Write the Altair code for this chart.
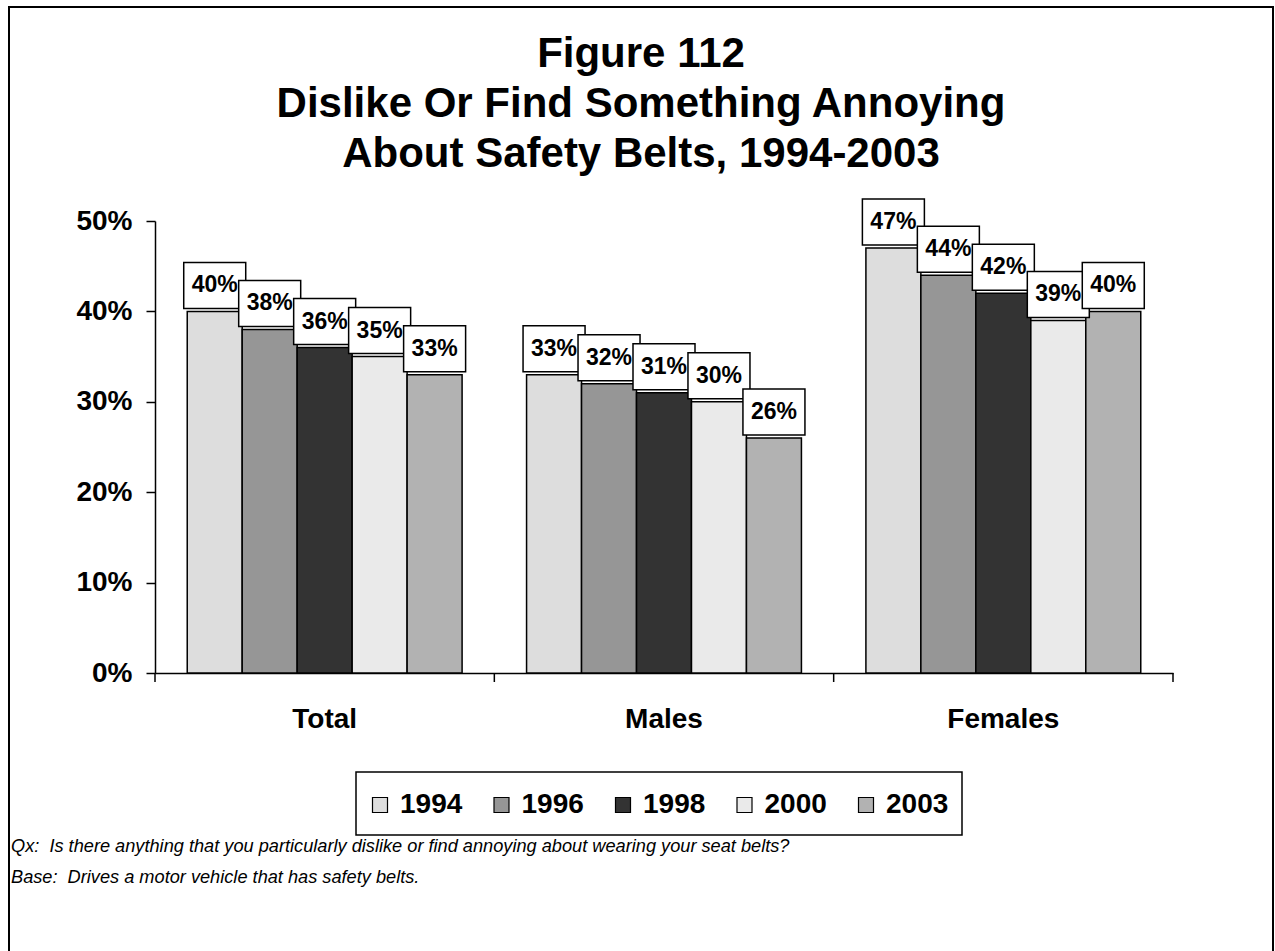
import altair as alt
import pandas as pd

# Survey groups, survey years and the share answering "yes" in each
groups = ["Total", "Males", "Females"]
years = ["1994", "1996", "1998", "2000", "2003"]
share_1994 = [0.40, 0.33, 0.47]
share_1996 = [0.38, 0.32, 0.44]
share_1998 = [0.36, 0.31, 0.42]
share_2000 = [0.35, 0.30, 0.39]
share_2003 = [0.33, 0.26, 0.40]
year_fills = ["#DDDDDD", "#969696", "#333333", "#EAEAEA", "#B2B2B2"]
y_ticks = [0.0, 0.1, 0.2, 0.3, 0.4, 0.5]

title_lines = [
    "Figure 112",
    "Dislike Or Find Something Annoying",
    "About Safety Belts, 1994-2003",
]
note_lines = [
    "Qx:\u00a0 Is there anything that you particularly dislike or find annoying about wearing your seat belts?",
    "Base:\u00a0 Drives a motor vehicle that has safety belts.",
]

by_year = dict(zip(years, [share_1994, share_1996, share_1998, share_2000, share_2003]))
df = pd.DataFrame(
    [{"group": g, "year": y, "share": by_year[y][i]} for y in years for i, g in enumerate(groups)]
)
# category boundaries, where the x-axis tick marks sit
edges = pd.DataFrame({"edge": list(range(len(groups) + 1))})

FONT = "Liberation Sans"
W, H = 1018, 452          # plot area
LEFT, TOP = 155, 221      # plot origin inside the 1275 x 951 page

base = alt.Chart(df).encode(
    x=alt.X(
        "group:N",
        sort=groups,
        scale=alt.Scale(paddingInner=0.19, paddingOuter=0.095),
        axis=alt.Axis(
            title=None, labelAngle=0, labelFont=FONT, labelFontSize=28,
            labelFontWeight="bold", labelColor="black", labelPadding=32,
            ticks=False, tickSize=0, domainColor="black", domainWidth=1.5,
            grid=False,
        ),
    ),
    xOffset=alt.XOffset("year:N", sort=years),
    y=alt.Y(
        "share:Q",
        scale=alt.Scale(domain=[0, 0.5], nice=False),
        axis=alt.Axis(
            title=None, values=y_ticks, format=".0%", labelFont=FONT,
            labelFontSize=28, labelFontWeight="bold", labelColor="black",
            labelPadding=14, tickSize=9, tickColor="black", tickWidth=1.5,
            domainColor="black", domainWidth=1.5, grid=False,
        ),
    ),
)

bars = base.mark_bar(stroke="black", strokeWidth=1.5).encode(
    color=alt.Color(
        "year:N",
        sort=years,
        scale=alt.Scale(domain=years, range=year_fills),
        legend=alt.Legend(
            title=None, orient="none", legendX=211, legendY=570,
            direction="horizontal", columns=5, symbolType="square",
            symbolSize=225, symbolStrokeColor="black", symbolStrokeWidth=1.2,
            labelFont=FONT, labelFontSize=28, labelFontWeight="bold",
            labelColor="black", labelOffset=6, columnPadding=24.5, padding=0,
        ),
    )
)

# white label boxes sitting just above each bar
boxes = base.mark_bar(
    width=62, fill="white", stroke="black", strokeWidth=1.5, yOffset=-3, y2Offset=-49
).encode(y2="share:Q")

labels = base.mark_text(
    dy=-26, baseline="middle", align="center", font=FONT, fontSize=23,
    fontWeight="bold", color="black",
).encode(text=alt.Text("share:Q", format=".0%"))

plot = alt.layer(bars, boxes, labels)

ticks = alt.Chart(edges).mark_rule(color="black", strokeWidth=1.5).encode(
    x=alt.X("edge:Q", scale=alt.Scale(domain=[0, len(groups)], nice=False, zero=False), axis=None),
    y=alt.value(H),
    y2=alt.value(H + 9),
)

single = alt.Data(values=[{}])

frame = alt.Chart(single).mark_rect(
    fillOpacity=0, stroke="black", strokeWidth=2
).encode(
    x=alt.value(9 - LEFT), x2=alt.value(1273 - LEFT),
    y=alt.value(7 - TOP), y2=alt.value(960 - TOP),
)

legend_box = alt.Chart(single).mark_rect(
    fill="white", stroke="black", strokeWidth=1.5
).encode(
    x=alt.value(356 - LEFT), x2=alt.value(962 - LEFT),
    y=alt.value(772 - TOP), y2=alt.value(835 - TOP),
)

heading = alt.Chart(single).mark_text(
    text=title_lines, font=FONT, fontSize=42, fontWeight="bold", color="black",
    align="center", baseline="alphabetic", lineHeight=50,
).encode(x=alt.value(641 - LEFT), y=alt.value(67 - TOP))

notes = alt.Chart(single).mark_text(
    text=note_lines, font=FONT, fontSize=18.2, fontStyle="italic", color="black",
    align="left", baseline="middle", lineHeight=31,
).encode(x=alt.value(11 - LEFT), y=alt.value(847 - TOP))

chart = (
    alt.layer(frame, legend_box, plot, ticks, heading, notes)
    .resolve_scale(x="independent")
    .properties(
        width=W,
        height=H,
        autosize=alt.AutoSizeParams(type="none"),
        padding={"left": LEFT, "top": TOP, "right": 1275 - LEFT - W, "bottom": 951 - TOP - H},
        background="white",
    )
    .configure_view(stroke=None)
)

chart.save("out.html", embed_options={"renderer": "svg", "actions": False})
